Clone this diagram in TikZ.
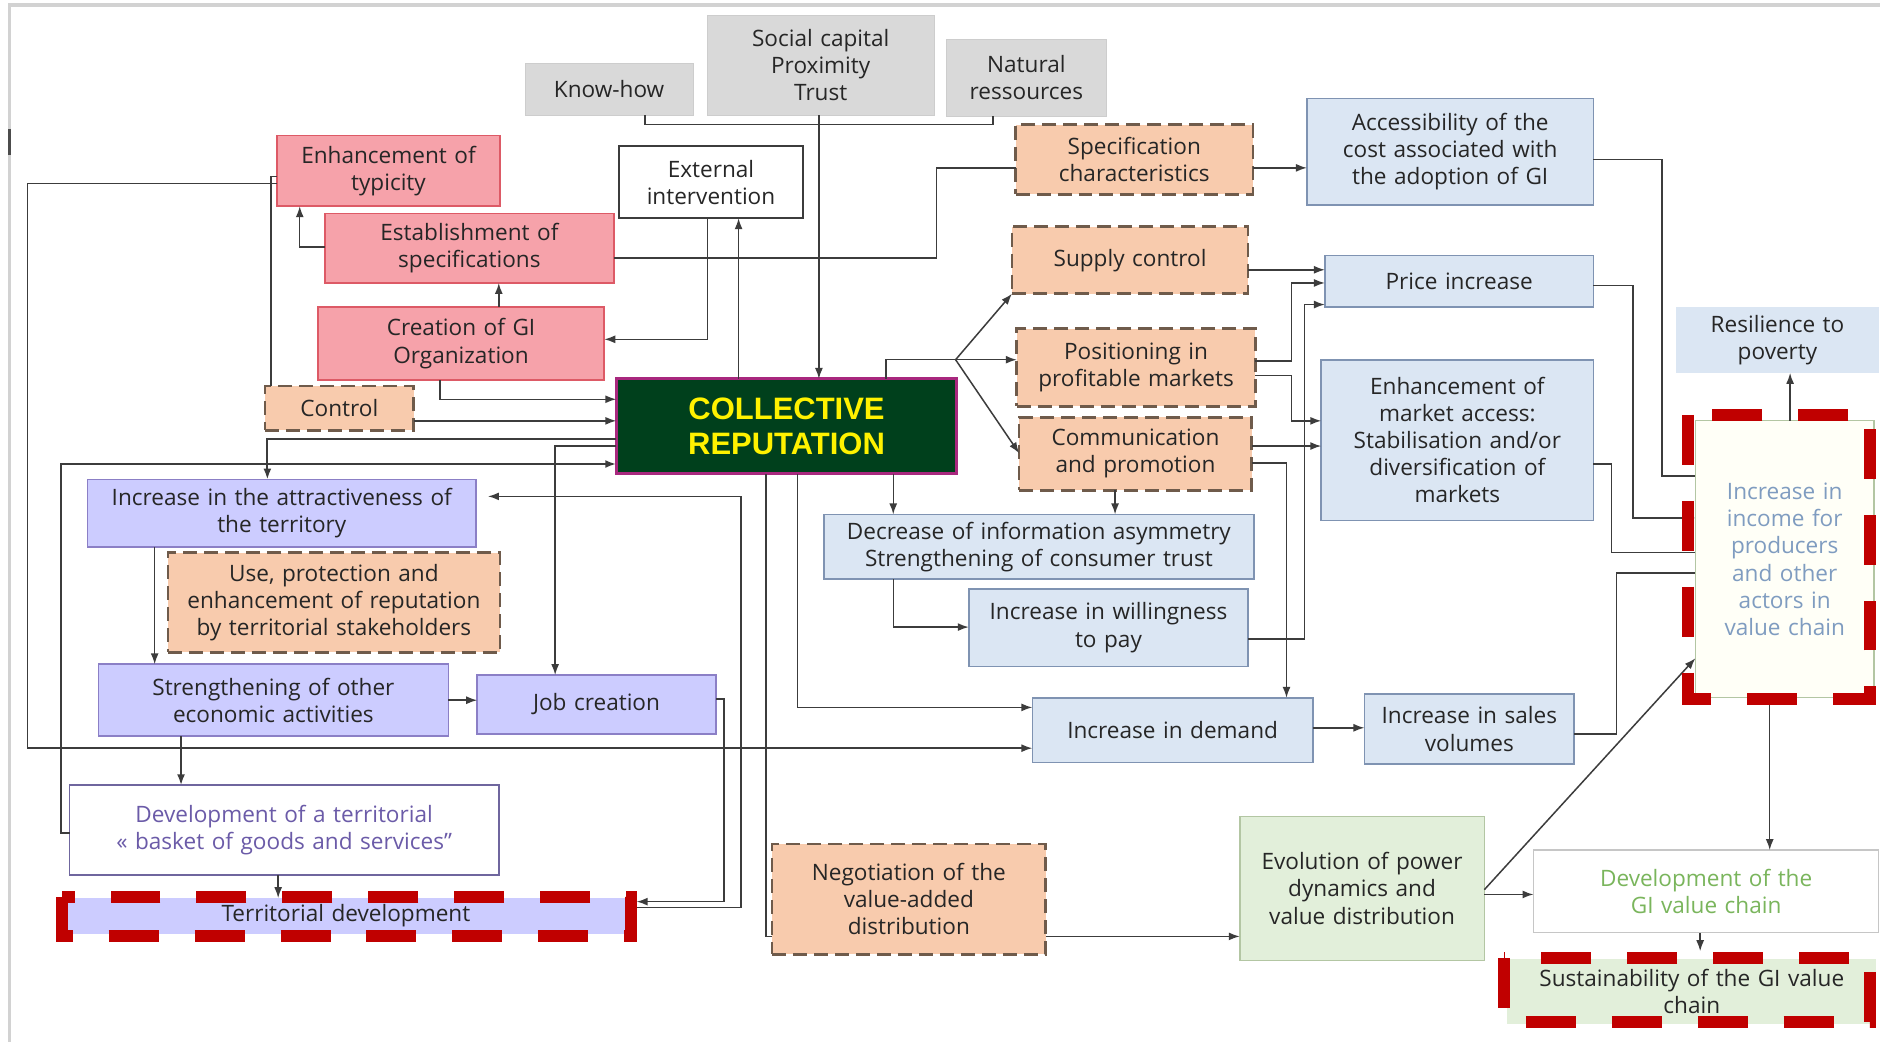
\documentclass[tikz,border=0pt]{standalone}
\usepackage{fontspec}
\setmainfont{Open Sans}
\newfontfamily\crfont{Liberation Sans}
\usetikzlibrary{arrows.meta}
\definecolor{lin}{HTML}{3C3C3C}
\definecolor{gryF}{HTML}{D9D9D9}
\definecolor{gryD}{HTML}{CDCDCD}
\definecolor{redF}{HTML}{F6A2AA}
\definecolor{redD}{HTML}{DD5A66}
\definecolor{orF}{HTML}{F8CBAD}
\definecolor{orD}{HTML}{6F5B4B}
\definecolor{bluF}{HTML}{DBE6F3}
\definecolor{bluD}{HTML}{7F93B2}
\definecolor{lavF}{HTML}{CCCCFF}
\definecolor{lavD}{HTML}{8B7FC6}
\definecolor{grnF}{HTML}{E2EFDA}
\definecolor{grnD}{HTML}{B3C6A3}
\definecolor{crF}{HTML}{00401C}
\definecolor{crD}{HTML}{A8287E}
\definecolor{redd}{HTML}{C00000}
\definecolor{txt}{HTML}{262626}
\definecolor{purT}{HTML}{6B5BA8}
\definecolor{incT}{HTML}{7F9CC0}
\definecolor{dgiT}{HTML}{7AB55C}
\newcommand\bx[7]{%
 \pgfmathsetmacro\bxcx{(#3+#5)/2}%
 \pgfmathsetmacro\bxcy{(#4+#6)/2}%
 \pgfmathsetmacro\bxw{(#5-#3)*0.6}%
 \pgfmathsetmacro\bxh{(#6-#4)*0.6}%
 \pgfmathsetmacro\bxt{\bxw-3}%
 \node[box,#2, minimum width=\bxw pt, minimum height=\bxh pt, text width=\bxt pt] (#1) at (\bxcx,\bxcy) {#7};}
\tikzset{
 box/.style={inner sep=0pt, outer sep=0pt, align=center, text=txt, font=\fontsize{11.3}{13.6}\selectfont},
 graybox/.style={fill=gryF, draw=gryD, line width=0.4pt},
 redbox/.style={fill=redF, draw=redD, line width=0.9pt},
 orbox/.style={fill=orF, draw=orD, line width=1.3pt, dash pattern=on 7pt off 3.5pt},
 blubox/.style={fill=bluF, draw=bluD, line width=0.8pt},
 lavbox/.style={fill=lavF, draw=lavD, line width=0.8pt},
 grnbox/.style={fill=grnF, draw=grnD, line width=0.8pt},
 conn/.style={draw=lin, line width=0.75pt},
 arr/.style={conn, -{Latex[length=5.5pt,width=4pt]}},
 reddash/.style={draw=redd, line width=6pt, dash pattern=on 25pt off 18pt},
}
\begin{document}
\begin{tikzpicture}[x=0.6pt,y=-0.6pt]
\useasboundingbox[fill=white] (0,0) rectangle (1568,869);
% page frame
\draw[gray!35, line width=1.8pt] (8,869) -- (8,4) -- (1568,4);
\draw[black!70, line width=1.4pt] (8,108) -- (8,129);

% top resources
\bx{kh}{graybox}{438}{53}{578}{96}{Know-how}
\bx{soc}{graybox}{590}{13}{779}{96}{Social capital\\Proximity\\Trust}
\bx{nat}{graybox}{789}{33}{923}{97}{Natural\\ressources}
\bx{ext}{fill=white, draw=lin, line width=0.9pt}{516}{122}{670}{182}{External\\intervention}

% red boxes
\bx{typ}{redbox}{231}{113}{417}{172}{Enhancement of\\typicity}
\bx{est}{redbox}{271}{178}{512}{236}{Establishment of\\specifications}
\bx{gio}{redbox}{265}{256}{504}{317}{Creation of GI\\Organization}
\bx{ctl}{orbox}{221}{322}{345}{359}{Control}

% central
\node[inner sep=0pt, outer sep=0pt, fill=crF, draw=crD, line width=1.5pt,
 minimum width=170.4pt, minimum height=47.4pt, align=center, text=yellow,
 font=\crfont\bfseries\fontsize{15.5}{17.5}\selectfont] (cr) at (656,355.5) {COLLECTIVE\\REPUTATION};

% orange & blue right part
\bx{spec}{orbox}{847}{104}{1045}{162}{Specification\\characteristics}
\bx{acc}{blubox}{1090}{82}{1329}{171}{Accessibility of the\\cost associated with\\the adoption of GI}
\bx{sup}{orbox}{844}{189}{1041}{245}{Supply control}
\bx{pri}{blubox}{1105}{213}{1329}{256}{Price increase}
\bx{pos}{orbox}{848}{274}{1047}{339}{Positioning in\\profitable markets}
\bx{com}{orbox}{850}{348}{1044}{409}{Communication\\and promotion}
\bx{ema}{blubox}{1102}{300}{1329}{434}{Enhancement of\\market access:\\Stabilisation and/or\\diversification of\\markets}
\bx{res}{fill=bluF}{1398}{256}{1567}{311}{Resilience to\\poverty}
\bx{inc}{fill=yellow!3, draw=grnD, line width=0.6pt, text=incT}{1414}{351}{1563}{582}{Increase in\\income for\\producers\\and other\\actors in\\value chain}
\bx{dec}{blubox}{687}{429}{1046}{483}{Decrease of information asymmetry\\Strengthening of consumer trust}
\bx{wil}{blubox}{808}{491}{1041}{556}{Increase in willingness\\to pay}
\bx{dem}{blubox}{861}{582}{1095}{636}{Increase in demand}
\bx{sal}{blubox}{1138}{579}{1313}{637}{Increase in sales\\volumes}

% territorial (left)
\bx{att}{lavbox}{73}{400}{397}{456}{Increase in the attractiveness of\\the territory}
\bx{use}{orbox}{140}{461}{417}{544}{Use, protection and\\enhancement of reputation\\by territorial stakeholders}
\bx{str}{lavbox}{82}{554}{374}{614}{Strengthening of other\\economic activities}
\bx{job}{lavbox}{398}{563}{597}{612}{Job creation}
\bx{dtb}{fill=white, draw=lavD!80!black, line width=0.9pt, text=purT}{58}{655}{416}{730}{Development of a territorial\\« basket of goods and services”}
\bx{ter}{fill=lavF}{56}{749}{521}{779}{Territorial development}

% value chain (bottom)
\bx{neg}{orbox}{644}{704}{872}{796}{Negotiation of the\\value-added\\distribution}
\bx{evo}{grnbox}{1034}{681}{1238}{801}{Evolution of power\\dynamics and\\value distribution}
\bx{dgi}{fill=white, draw=gray!45, line width=0.6pt, text=dgiT}{1279}{709}{1567}{778}{Development of the\\GI value chain}
\bx{sus}{fill=grnF}{1257}{800}{1565}{854}{Sustainability of the GI value\\chain}

% ---------------- connectors
\draw[arr] (soc.south -| 683,0) -- (cr.north -| 683,0);
\draw[conn] (kh.south -| 538,0) -- (538,104) -- (828,104) -- (nat.south -| 828,0);
\draw[arr] (ext.south -| 590,0) |- (gio.east |- 0,283);
\draw[arr] (cr.north -| 616,0) -- (ext.south -| 616,0);
\draw[conn] (est.east |- 0,215) -- (781,215) |- (spec.west |- 0,140);
\draw[arr] (spec.east |- 0,140) -- (acc.west |- 0,140);
\draw[arr] (gio.north -| 416,0) -- (est.south -| 416,0);
\draw[arr] (est.west |- 0,206) -| (typ.south -| 250,0);
\draw[arr] (gio.south -| 367,0) |- (cr.west |- 0,333);
\draw[arr] (ctl.east |- 0,351) -- (cr.west |- 0,351);
\draw[arr, line width=1.1pt] (cr.west |- 0,366) -| (att.north -| 223,0);
\draw[arr] (cr.west |- 0,372) -| (job.north -| 463,0);
\draw[arr, line width=1.1pt] (dtb.west |- 0,695) -| (51,387) -- (cr.west |- 0,387);
\draw[conn] (ctl.north -| 226,0) |- (typ.west |- 0,147);
\draw[arr] (typ.west |- 0,153) -| (23,624) -- (dem.west |- 0,624);
\draw[arr] (att.south -| 129,0) -- (str.north -| 129,0);
\draw[arr] (str.east |- 0,584) -- (job.west |- 0,584);
\draw[arr, line width=1.1pt] (str.south -| 151,0) -- (dtb.north -| 151,0);
\draw[arr] (dtb.south -| 232,0) -- (ter.north -| 232,0);
\draw[arr] (job.east |- 0,583) -| (604,752) -- ([xshift=6pt]ter.east |- 0,752);
\draw[arr] ([xshift=4pt]ter.east |- 0,757) -| (618,414) -- ([xshift=6pt]att.east |- 0,414);
\draw[conn] (cr.south -| 639,0) |- (neg.west |- 0,781);
\draw[arr] (cr.south -| 665,0) |- (dem.west |- 0,590);
\draw[arr] (neg.east |- 0,781) -- (evo.west |- 0,781);
\draw[conn] (cr.north -| 739,0) |- (797,300) coordinate (fan);
\draw[arr] (fan) -- (sup.south west);
\draw[arr] (fan) -- (pos.west |- 0,300);
\draw[arr] (fan) -- (com.west |- 0,378);
\draw[arr] (cr.south -| 745,0) -- (dec.north -| 745,0);
\draw[arr] (com.south -| 930,0) -- (dec.north -| 930,0);
\draw[arr] (dec.south -| 745,0) |- (wil.west |- 0,523);
\draw[arr] (sup.east |- 0,225) -- (pri.west |- 0,225);
\draw[arr] (pos.east |- 0,301) -| (1077,236) -- (pri.west |- 0,236);
\draw[arr] (pos.east |- 0,313) -| (1077,351) -- (ema.west |- 0,351);
\draw[arr] (com.east |- 0,372) -- (ema.west |- 0,372);
\draw[arr] (com.east |- 0,386) -| (dem.north -| 1073,0);
\draw[arr] (wil.east |- 0,533) -| (1088,254) -- (pri.west |- 0,254);
\draw[arr] (dem.east |- 0,607) -- (sal.west |- 0,607);
\draw[conn] (acc.east |- 0,133) -| (1386,397) -- (inc.west |- 0,397);
\draw[arr] (pri.east |- 0,238) -| (1362,432) -- (inc.west |- 0,432);
\draw[conn] (ema.east |- 0,387) -| (1344,461) -- (inc.west |- 0,461);
\draw[conn] (sal.east |- 0,612) -| (1348,478) -- (inc.west |- 0,478);
\draw[arr] (evo.east |- 0,742) -- (inc.west |- 0,549);
\draw[arr] (evo.east |- 0,746) -- (dgi.west |- 0,746);
\draw[arr] (inc.north -| 1493,0) -- (res.south -| 1493,0);
\draw[arr] (inc.south -| 1476,0) -- (dgi.north -| 1476,0);
\draw[arr] (dgi.south -| 1418,0) -- ([yshift=4pt]sus.north -| 1418,0);

% red highlight outlines
\draw[reddash] ([shift={(-4.5,-0.5)}]ter.north west) rectangle ([shift={(5,2)}]ter.south east);
\draw[reddash] ([shift={(-6.5,-5)}]inc.north west) rectangle ([shift={(-3,1)}]inc.south east);
\draw[reddash] ([shift={(-3,-1)}]sus.north west) rectangle ([shift={(-5,-2)}]sus.south east);
\end{tikzpicture}
\end{document}
